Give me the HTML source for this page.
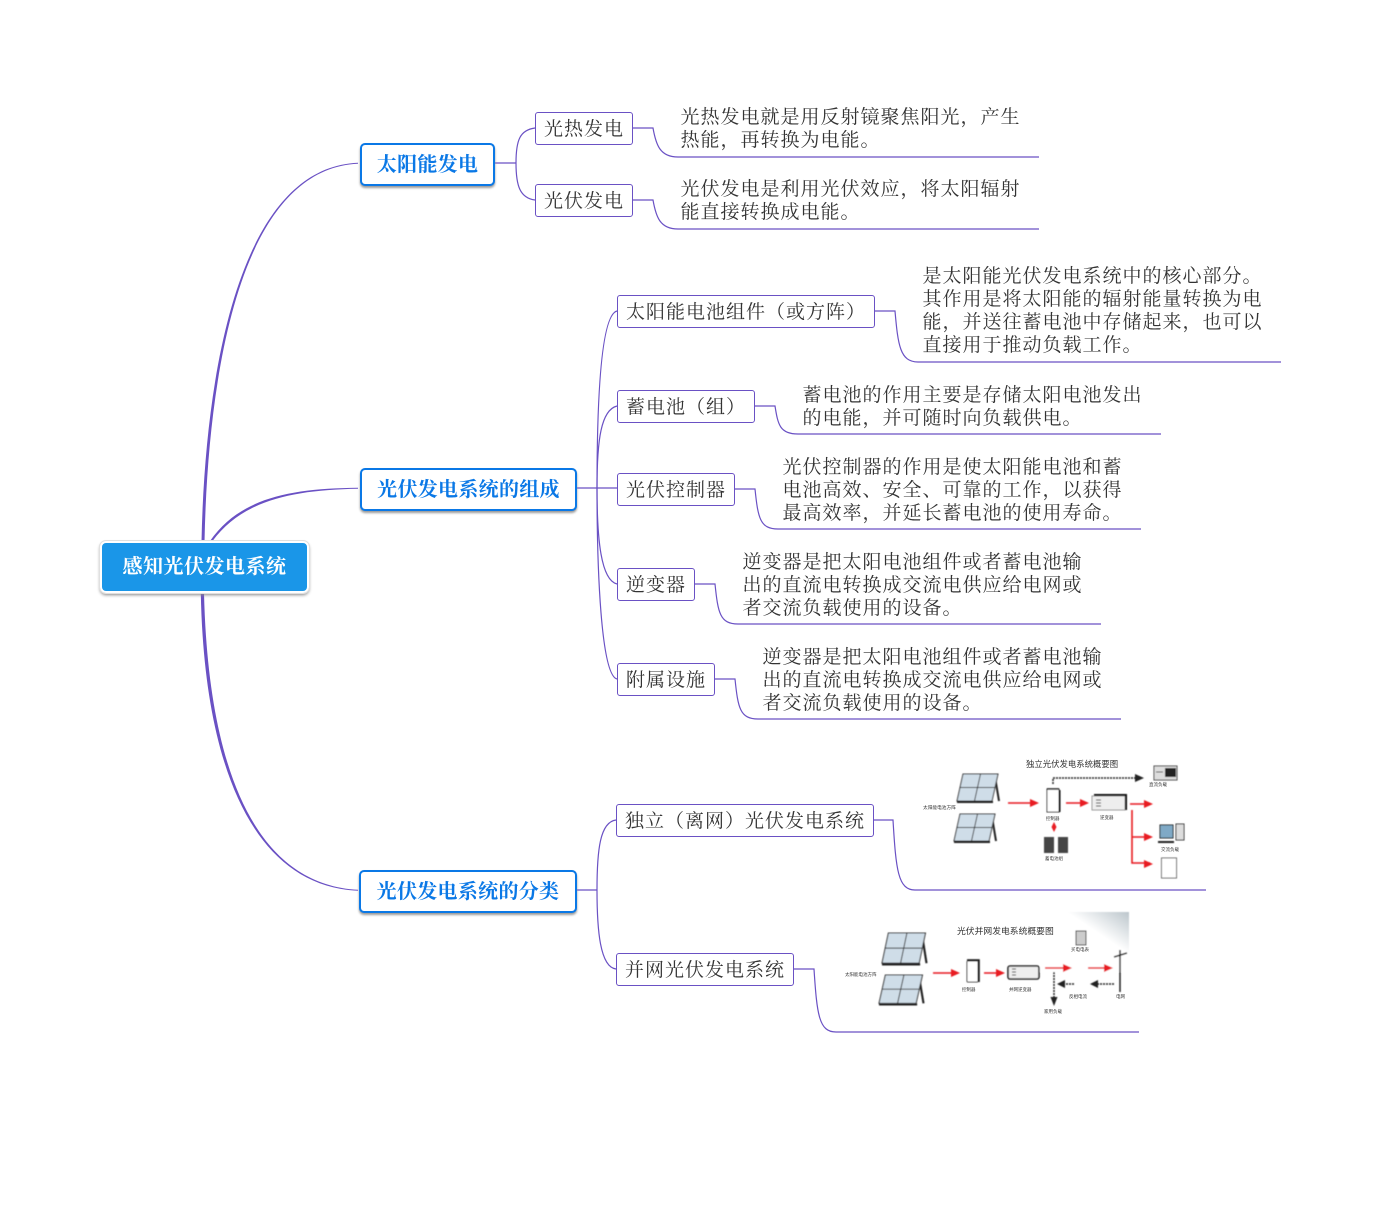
<!DOCTYPE html>
<html><head><meta charset="utf-8"><style>
html,body{margin:0;padding:0;background:#fff}
#p{position:relative;width:1379px;height:1227px;overflow:hidden;background:#fff;font-family:"Liberation Sans","Noto Sans CJK SC",sans-serif}
svg{position:absolute;left:0;top:0}
.t{position:absolute;white-space:nowrap;font-size:19px;letter-spacing:1px;line-height:23px;color:#333;font-family:"Liberation Sans","Noto Serif CJK SC","Noto Sans CJK SC",sans-serif}
.n{position:absolute;box-sizing:border-box;border:1px solid #6a51c4;border-radius:3px;background:#fff;white-space:nowrap;font-size:19px;letter-spacing:1px;color:#333;text-align:center;line-height:33px;font-family:"Liberation Sans","Noto Serif CJK SC","Noto Sans CJK SC",sans-serif}
.m{position:absolute;box-sizing:border-box;border:2px solid #0a78e6;border-radius:5px;background:#fff;box-shadow:0 2px 2px #9a9a9a;color:#0a78e6;font-weight:bold;font-size:20px;letter-spacing:.3px;text-align:center;white-space:nowrap;line-height:40px;font-family:"Liberation Serif","Noto Serif CJK SC",serif}
.r{position:absolute;box-sizing:border-box;left:100px;top:541px;width:209px;height:52px;border:2px solid #fff;outline:1px solid #e0e0e0;outline-offset:0;border-radius:6px;background:#1a96e8;box-shadow:0 2px 3px #888;color:#fff;font-weight:bold;font-size:20px;letter-spacing:.5px;line-height:48px;text-align:center;font-family:"Liberation Serif","Noto Serif CJK SC",serif}
</style></head><body><div id="p">
<svg width="1379" height="1227" viewBox="0 0 1379 1227" fill="none">
<defs><filter id="b" x="-5%" y="-5%" width="110%" height="110%"><feGaussianBlur stdDeviation="0.5"/></filter>
<linearGradient id="g" x1="0" y1="1" x2="1" y2="0"><stop offset="0" stop-color="#fff"/><stop offset=".65" stop-color="#fff"/><stop offset="1" stop-color="#bcc6cc"/></linearGradient>
<g id="panel"><path d="M38 3L42 27" stroke="#222" stroke-width="2"/><path d="M6 0H41L35 27H0Z" fill="#cfdde8" stroke="#333"/><path d="M23.500 0L17.500 27M3 13.500H38" stroke="#333" stroke-width=".9"/><path d="M0 28H36" stroke="#222" stroke-width="2"/></g></defs>

<g fill="#6a51c4" stroke="none">
<path d="M201.500 542C205 370 240 167.500 358 162.800L358 163.800C241 169 208 370 204.500 542Z"/>
<path d="M210 541C240 498 290 488.500 358 487.800L358 488.800C291 490 242 501 212.500 541Z"/>
<path d="M200.800 593C204 760 250 886 358 890.800L358 889.800C251 884 208 760 204 593Z"/>
</g>
<g stroke="#6a51c4" stroke-width="1.2">
<path d="M494 163H516"/>
<path d="M516 163C516 140 520 130 535 128"/><path d="M516 163C516 186 520 198 535 200"/>
<path d="M633 128H653C656 145 660 157 678 157H1039"/>
<path d="M633 200H653C656 217 660 229 678 229H1039"/>
<path d="M576 488H617"/>
<path d="M597 488C597 400 601 315 617 311"/>
<path d="M597 488C597 440 601 410 617 406"/>
<path d="M597 488C597 540 601 580 617 584"/>
<path d="M597 488C597 570 601 675 617 679"/>
<path d="M875 311H895C898 345 900 362 918 362H1281"/>
<path d="M755 406H775C778 425 780 434 798 434H1161"/>
<path d="M735 489H755C758 518 760 529 778 529H1141"/>
<path d="M695 584H715C718 613 720 624 738 624H1101"/>
<path d="M715 679H735C738 708 740 719 758 719H1121"/>
<path d="M576 890H597"/>
<path d="M597 890C597 850 600 822 616 820"/>
<path d="M597 890C597 930 600 967 616 969"/>
<path d="M874 820H893C896 870 898 890 915 890H1206"/>
<path d="M794 969H814C817 1015 819 1032 836 1032H1139"/>
</g>
<g filter="url(#b)">
<!-- standalone diagram -->
<use href="#panel" x="957" y="774"/>
<use href="#panel" x="954" y="814"/>
<path d="M1008 803H1034M1066 803H1084M1130 804H1148M1132 810V863H1150M1132 837H1150" stroke="#e81c24" stroke-width="1.6"/>
<path d="M1039 803l-9-4v8zM1089 803l-9-4v8zM1153 804l-9-4v8zM1153 837l-9-4v8zM1153 864l-9-4v8z" fill="#e81c24"/>
<path d="M1054 822l-2.500 5 2.500 5 2.500-5z" fill="#e81c24"/>
<path d="M1053 784V778H1136" stroke="#222" stroke-dasharray="2 1" stroke-width="1.5"/><path d="M1144 778l-9-4v8z" fill="#222"/>
<rect x="1047" y="789" width="12" height="23" fill="#fff" stroke="#333" stroke-width="1"/><path d="M1059.500 790V812" stroke="#111" stroke-width="2"/><path d="M1047 789H1059" stroke="#111" stroke-width="1.500"/>
<rect x="1092" y="796" width="33" height="14" fill="#eee" stroke="#999"/><path d="M1094 795H1126V810" stroke="#111" stroke-width="2"/><path d="M1096 800H1101M1096 803H1101M1096 806H1101" stroke="#333"/>
<rect x="1044" y="837" width="10" height="16" fill="#444"/><rect x="1058" y="837" width="10" height="16" fill="#444"/>
<rect x="1154" y="766" width="23" height="14" fill="#ddd" stroke="#444"/><rect x="1165" y="768" width="11" height="9" fill="#222"/><path d="M1156 772H1163" stroke="#555"/>
<rect x="1160" y="825" width="13" height="13" fill="#7fa9c6" stroke="#222"/><rect x="1176" y="824" width="8" height="16" fill="#ddd" stroke="#333"/><path d="M1158 842H1174" stroke="#222" stroke-width="2"/>
<rect x="1161.500" y="858" width="15" height="20" fill="#fff" stroke="#666"/>
<!-- grid diagram -->
<rect x="1040" y="912" width="89" height="60" fill="url(#g)"/>
<use href="#panel" transform="translate(882 933) scale(1.06 1.12)"/>
<use href="#panel" transform="translate(879 975) scale(1.06 1.05)"/>
<path d="M933 973H954M984 973H998M1045 968H1067M1088 968H1108" stroke="#e81c24" stroke-width="1.6"/>
<path d="M960 973l-9-4v8zM1005 973l-9-4v8zM1072 968l-9-4v8zM1113 968l-9-4v8z" fill="#e81c24"/>
<path d="M1054 972V1000" stroke="#222" stroke-dasharray="2 1" stroke-width="1.5"/><path d="M1054 1006l-3.500-9h7z" fill="#222"/>
<path d="M1074 984H1064M1114 984H1098" stroke="#222" stroke-dasharray="2 1" stroke-width="1.5"/><path d="M1057 984l8-4v8zM1090 984l8-4v8z" fill="#222"/>
<rect x="967" y="961" width="11" height="21" fill="#fff" stroke="#333" rx="1"/><path d="M967 960H979V982" stroke="#111" stroke-width="1.500"/>
<rect x="1008" y="966" width="31" height="13" fill="#eee" stroke="#222" stroke-width="1.600" rx="2"/><path d="M1012 969H1016M1012 972H1016M1012 975H1016" stroke="#333"/>
<rect x="1076" y="931" width="10" height="14" fill="#ccc" stroke="#333"/>
<path d="M1120 950V992M1114 957L1127 953" stroke="#222" stroke-width="1.500"/>
</g>
<g fill="#333" font-family="Noto Sans CJK SC,sans-serif">
<text x="1026" y="767" font-size="8.400">独立光伏发电系统概要图</text>
<text x="923" y="809" font-size="4.700">太阳能电池方阵</text>
<text x="1046" y="820" font-size="4.500">控制器</text>
<text x="1100" y="819" font-size="4.500">逆变器</text>
<text x="1045" y="860" font-size="4.500">蓄电池组</text>
<text x="1149" y="786" font-size="4.500">直流负载</text>
<text x="1161" y="851" font-size="4.500">交流负载</text>
<text x="957" y="934" font-size="8.800">光伏并网发电系统概要图</text>
<text x="845" y="976" font-size="4.500">太阳能电池方阵</text>
<text x="962" y="991" font-size="4.500">控制器</text>
<text x="1009" y="991" font-size="4.500">并网逆变器</text>
<text x="1071" y="951" font-size="4.500">买电电表</text>
<text x="1069" y="998" font-size="4.500">反相电流</text>
<text x="1044" y="1013" font-size="4.500">家用负载</text>
<text x="1116" y="998" font-size="4.500">电网</text>
</g>
</svg>

<div class="r">感知光伏发电系统</div>
<div class="m" style="left:360px;top:143px;width:135px;height:43px">太阳能发电</div>
<div class="m" style="left:360px;top:468px;width:217px;height:43px">光伏发电系统的组成</div>
<div class="m" style="left:359px;top:870px;width:218px;height:43px">光伏发电系统的分类</div>

<div class="n" style="left:535px;top:112px;width:98px;height:33px">光热发电</div>
<div class="n" style="left:535px;top:184px;width:98px;height:33px">光伏发电</div>
<div class="n" style="left:617px;top:295px;width:258px;height:33px">太阳能电池组件（或方阵）</div>
<div class="n" style="left:617px;top:390px;width:138px;height:33px">蓄电池（组）</div>
<div class="n" style="left:617px;top:473px;width:118px;height:33px">光伏控制器</div>
<div class="n" style="left:617px;top:568px;width:78px;height:33px">逆变器</div>
<div class="n" style="left:617px;top:663px;width:98px;height:33px">附属设施</div>
<div class="n" style="left:616px;top:804px;width:258px;height:33px">独立（离网）光伏发电系统</div>
<div class="n" style="left:616px;top:953px;width:178px;height:33px">并网光伏发电系统</div>

<div class="t" style="left:680.500px;top:106px">光热发电就是用反射镜聚焦阳光，产生<br>热能，再转换为电能。</div>
<div class="t" style="left:680.500px;top:178px">光伏发电是利用光伏效应，将太阳辐射<br>能直接转换成电能。</div>
<div class="t" style="left:922.500px;top:265px">是太阳能光伏发电系统中的核心部分。<br>其作用是将太阳能的辐射能量转换为电<br>能，并送往蓄电池中存储起来，也可以<br>直接用于推动负载工作。</div>
<div class="t" style="left:802.500px;top:384px">蓄电池的作用主要是存储太阳电池发出<br>的电能，并可随时向负载供电。</div>
<div class="t" style="left:782.500px;top:456px">光伏控制器的作用是使太阳能电池和蓄<br>电池高效、安全、可靠的工作，以获得<br>最高效率，并延长蓄电池的使用寿命。</div>
<div class="t" style="left:742.500px;top:551px">逆变器是把太阳电池组件或者蓄电池输<br>出的直流电转换成交流电供应给电网或<br>者交流负载使用的设备。</div>
<div class="t" style="left:762.500px;top:646px">逆变器是把太阳电池组件或者蓄电池输<br>出的直流电转换成交流电供应给电网或<br>者交流负载使用的设备。</div>
</div></body></html>
